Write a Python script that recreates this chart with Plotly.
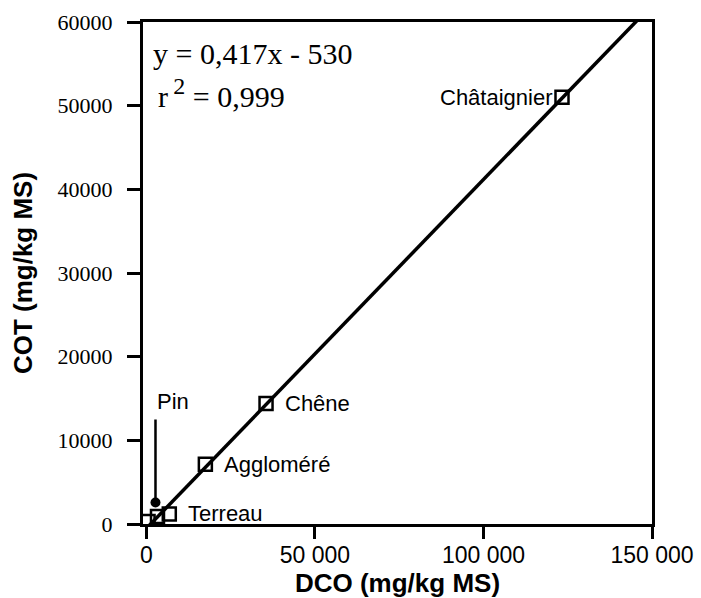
import plotly.graph_objects as go

# Samples: DCO vs COT (mg/kg MS)
samples = ["Châtaignier", "Chêne", "Aggloméré", "Terreau", "Pin", ""]
dco = [123300, 35500, 17500, 6800, 3300, 500]
cot = [51000, 14400, 7150, 1200, 900, 300]

# Linear fit reported on the chart
slope = 0.417
intercept = -530
r2 = 0.999

x_ticks = [0, 50000, 100000, 150000]
x_tick_text = ["0", "50 000", "100 000", "150 000"]
y_ticks = [0, 10000, 20000, 30000, 40000, 50000, 60000]
y_tick_text = [str(v) for v in y_ticks]

fit_x = [0, 150000]
fit_y = [slope * v + intercept for v in fit_x]

fig = go.Figure()

fig.add_trace(go.Scatter(
    x=fit_x, y=fit_y, mode="lines",
    line=dict(color="black", width=3.5),
    hoverinfo="skip", showlegend=False,
))

fig.add_trace(go.Scatter(
    x=dco, y=cot, mode="markers",
    marker=dict(symbol="square-open", size=13, color="black",
                line=dict(color="black", width=2.5)),
    text=samples, showlegend=False,
))

label_font = dict(family="Liberation Sans, Arial, sans-serif", size=22, color="black")

# Point labels
fig.add_annotation(x=dco[0], y=cot[0], text=samples[0], showarrow=False,
                   xanchor="right", yanchor="middle", xshift=-7, font=label_font)
for i in (1, 2, 3):
    fig.add_annotation(x=dco[i], y=cot[i], text=samples[i], showarrow=False,
                       xanchor="left", yanchor="middle", xshift=17, font=label_font)

# "Pin" with a leader line ending in a dot
fig.add_annotation(x=dco[4], y=cot[4], text=samples[4], showarrow=True,
                   arrowhead=6, arrowsize=1, arrowwidth=2.5, arrowcolor="black",
                   ax=0, ay=-100, standoff=14, startstandoff=3,
                   xanchor="left", yanchor="bottom", xshift=-2,
                   font=label_font)

# Fit equation
eq_font = dict(family="Liberation Serif, Times New Roman, serif", size=30, color="black")
fig.add_annotation(xref="paper", yref="paper", x=0.015, y=0.938,
                   text=f"y = {str(slope).replace('.', ',')}x - {abs(intercept)}",
                   showarrow=False, xanchor="left", yanchor="middle", font=eq_font)
fig.add_annotation(xref="paper", yref="paper", x=0.025, y=0.859,
                   text=f"r<sup> <span style='font-size:24px'>2</span></sup> = {str(r2).replace('.', ',')}",
                   showarrow=False, xanchor="left", yanchor="middle", font=eq_font)

fig.update_layout(
    width=701, height=598,
    margin=dict(l=143, r=49, t=22, b=74),
    paper_bgcolor="white", plot_bgcolor="white",
    showlegend=False,
)

fig.update_xaxes(
    range=[-1000, 150000], automargin=False,
    tickvals=x_ticks, ticktext=x_tick_text,
    ticks="outside", ticklen=12, tickwidth=2.5, tickcolor="black",
    showline=True, linewidth=3, linecolor="black", mirror=True,
    showgrid=False, zeroline=False,
    tickfont=dict(family="Liberation Sans, Arial, sans-serif", size=23, color="black"),
    ticklabelstandoff=-4,
    title=dict(text="<b>DCO (mg/kg MS)</b>", standoff=16,
               font=dict(family="Liberation Sans, Arial, sans-serif", size=26, color="black")),
)

fig.update_yaxes(
    range=[0, 60000], automargin=False,
    tickvals=y_ticks, ticktext=y_tick_text,
    ticks="outside", ticklen=13, tickwidth=2.5, tickcolor="black",
    showline=True, linewidth=3, linecolor="black", mirror=True,
    showgrid=False, zeroline=False,
    tickfont=dict(family="Liberation Serif, Times New Roman, serif", size=22, color="black"),
    ticklabelstandoff=10,
    title=dict(text="<b>COT (mg/kg MS)</b>", standoff=18,
               font=dict(family="Liberation Sans, Arial, sans-serif", size=26, color="black")),
)

fig.write_html("out.html")
